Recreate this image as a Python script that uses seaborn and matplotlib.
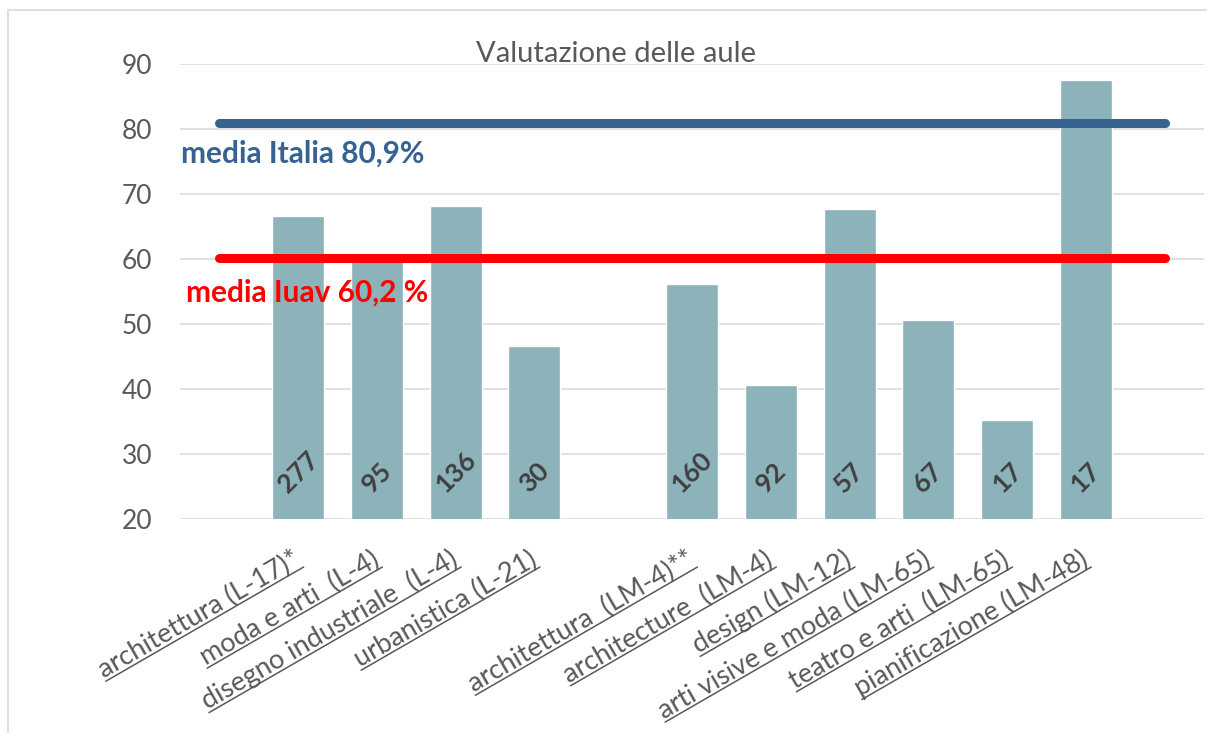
import numpy as np
import pandas as pd
import seaborn as sns
import matplotlib
matplotlib.use("Agg")
import matplotlib.pyplot as plt
import matplotlib.transforms as mtransforms
from matplotlib.lines import Line2D
from matplotlib.patches import Rectangle

# --- dati ---
corsi = [
    "architettura (L-17)*",
    "moda e arti  (L-4)",
    "disegno industriale  (L-4)",
    "urbanistica (L-21)",
    "architettura  (LM-4)**",
    "architecture  (LM-4)",
    "design (LM-12)",
    "arti visive e moda (LM-65)",
    "teatro e arti  (LM-65)",
    "pianificazione (LM-48)",
]
valutazione = [66.6, 59.7, 68.2, 46.6, 56.2, 40.6, 67.7, 50.6, 35.2, 87.5]
rispondenti = [277, 95, 136, 30, 160, 92, 57, 67, 17, 17]
media_italia = 80.9
media_iuav = 60.2
yticks = [20, 30, 40, 50, 60, 70, 80, 90]

# categorie vuote per lasciare gli spazi come nell'originale
order = ["_g0"] + corsi[:4] + ["_g1"] + corsi[4:] + ["_g2"]
pos = [order.index(c) for c in corsi]

df = pd.DataFrame({"corso": corsi, "valutazione": valutazione})

sns.set_theme(style="white")
plt.rcParams["font.family"] = ["Lato", "DejaVu Sans"]

W, H = 1207, 733
fig = plt.figure(figsize=(W / 100, H / 100), dpi=100)
ax = fig.add_axes([180 / W, (H - 519) / H, 1024 / W, 455 / H])

sns.barplot(data=df, x="corso", y="valutazione", order=order, color="#8CB3BA",
            saturation=1, width=0.66, ax=ax)

ax.set_xlim(-0.5, len(order) - 0.5)
ax.set_ylim(20, 90)
ax.set_yticks(yticks)
ax.grid(axis="y", color="#d9d9d9", lw=1.1)
ax.set_axisbelow(True)
ax.tick_params(axis="y", length=0, pad=20, labelsize=19, labelcolor="#595959")
ax.tick_params(axis="x", length=0, labelbottom=False)
ax.set_xlabel("")
ax.set_ylabel("")
sns.despine(ax=ax, left=True, bottom=True)

# linee delle medie
ax.plot([0, len(order) - 1], [media_italia] * 2, color="#366391", lw=6.5,
        solid_capstyle="round", zorder=4)
ax.plot([0, len(order) - 1], [media_iuav] * 2, color="#FF0000", lw=6.5,
        solid_capstyle="round", zorder=4)
ax.text(-0.49, 74.9, "media Italia 80,9%", color="#366391", fontsize=21.5,
        fontweight="bold", ha="left", va="baseline", zorder=5)
ax.text(-0.42, 53.4, "media Iuav 60,2 %", color="#FF0000", fontsize=21.5,
        fontweight="bold", ha="left", va="baseline", zorder=5)

# numero di rispondenti dentro le barre
for p, n in zip(pos, rispondenti):
    ax.text(p, 23.4, str(n), rotation=45, ha="center", va="bottom", fontsize=19,
            fontweight="bold", color="#404040", zorder=5)

# etichette asse x, ruotate e sottolineate
angle = 30
trans = mtransforms.blended_transform_factory(ax.transData, ax.transAxes) + \
    mtransforms.ScaledTranslation(4 / 100, -45.4 / 100, fig.dpi_scale_trans)
labels = []
for p, c in zip(pos, corsi):
    t = ax.text(p, 0, c, transform=trans, rotation=angle, rotation_mode="anchor",
                ha="right", va="baseline", fontsize=19.5, color="#595959", clip_on=False)
    labels.append(t)

fig.text(616 / W, 1 - 62 / H, "Valutazione delle aule", ha="center", va="baseline",
         fontsize=21, color="#595959")

# cornice del grafico
fig.add_artist(Rectangle((8 / W, -0.05), 1.2, 1 - 10 / H + 0.05, transform=fig.transFigure,
                         fill=False, edgecolor="#d9d9d9", lw=1.2))

fig.canvas.draw()
renderer = fig.canvas.get_renderer()
th = np.radians(angle)
u = np.array([np.cos(th), np.sin(th)])
nrm = np.array([np.sin(th), -np.cos(th)])
inv = fig.transFigure.inverted()
for t in labels:
    anchor = t.get_transform().transform(t.get_position())
    w, h, d = renderer.get_text_width_height_descent(t.get_text(), t.get_fontproperties(), ismath=False)
    end = anchor + nrm * 3
    start = end - u * w
    pts = inv.transform(np.vstack([start, end]))
    fig.add_artist(Line2D(pts[:, 0], pts[:, 1], transform=fig.transFigure,
                          color="#595959", lw=1.1))

fig.savefig("out.png", dpi=100)
